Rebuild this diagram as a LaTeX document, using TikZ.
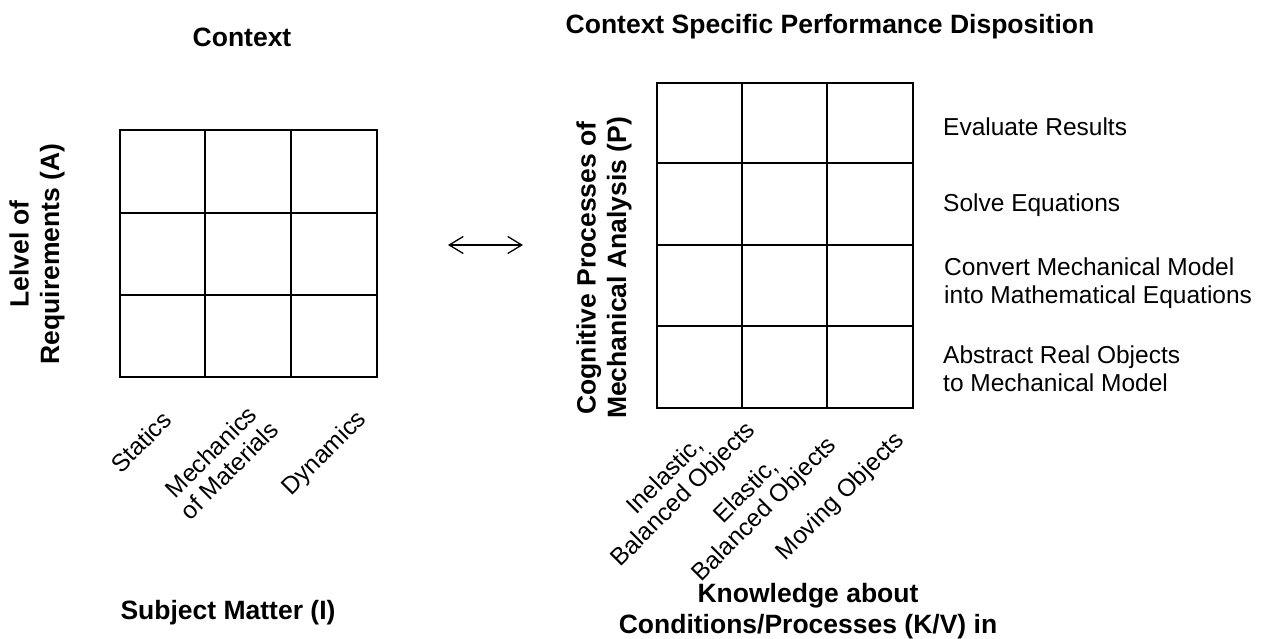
\documentclass[tikz,border=0pt]{standalone}
\usepackage{fontspec}
\setmainfont{Liberation Sans}
\usetikzlibrary{arrows.meta}
\begin{document}
\begin{tikzpicture}[x=1pt,y=-1pt,
  gridline/.style={line width=2pt},
  lbl/.style={font=\fontsize{24.5}{26}\selectfont, inner sep=0pt, align=center},
  lbll/.style={font=\fontsize{24.5}{28}\selectfont, inner sep=0pt, align=left, anchor=west},
  ttl/.style={font=\fontsize{26.5}{30.5}\selectfont\bfseries, inner sep=0pt, align=center},
  barb/.tip={Straight Barb[length=14pt,width=17pt]}]
\useasboundingbox (0,0) rectangle (1265,639);
% left grid
\draw[gridline] (120,130) rectangle (377,377);
\draw[gridline] (205,130)--(205,377) (291,130)--(291,377)
  (120,213)--(377,213) (120,295)--(377,295);
% right grid
\draw[gridline] (657,83) rectangle (913,408);
\draw[gridline] (742,83)--(742,408) (827,83)--(827,408)
  (657,163)--(913,163) (657,245)--(913,245) (657,326)--(913,326);
% arrow
\coordinate (aL) at (448,245);
\coordinate (aR) at (523,245);
\draw[line width=1.3pt, barb-barb] (aL) -- (aR);
% titles
\node[ttl, anchor=base] (t1) at (242,47) {Context};
\node[ttl, anchor=base] (t2) at (830,34) {Context Specific Performance Disposition};
\node[ttl, anchor=base] (t3) at (228,619) {Subject Matter (I)};
\node[ttl] (t4) at (808,611) {Knowledge about\\Conditions/Processes (K/V) in};
% rotated axis titles
\node[ttl, rotate=90] (ya) at (37,254) {Lelvel of\\Requirements (A)};
\node[ttl, rotate=90] (yp) at (604,268) {Cognitive Processes of\\Mechanical Analysis (P)};
% right labels
\node[lbll] (r1) at (943,127) {Evaluate Results};
\node[lbll] (r2) at (943,205) {Solve Equations};
\node[lbll] (r3) at (944,283) {Convert Mechanical Model\\into Mathematical Equations};
\node[lbll] (r4) at (943,369) {Abstract Real Objects\\to Mechanical Model};
% bottom labels left
\node[lbl, rotate=45] (b1) at (141,442) {Statics};
\node[lbl, rotate=45] (b2) at (220,461) {Mechanics\\of Materials};
\node[lbl, rotate=45] (b3) at (325,454) {Dynamics};
% bottom labels right
\node[lbl, rotate=45] (c1) at (675,486) {Inelastic,\\Balanced Objects};
\node[lbl, rotate=45] (c2) at (756,501) {Elastic,\\Balanced Objects};
\node[lbl, rotate=45] (c3) at (841,497) {Moving Objects};
\end{tikzpicture}
\end{document}
